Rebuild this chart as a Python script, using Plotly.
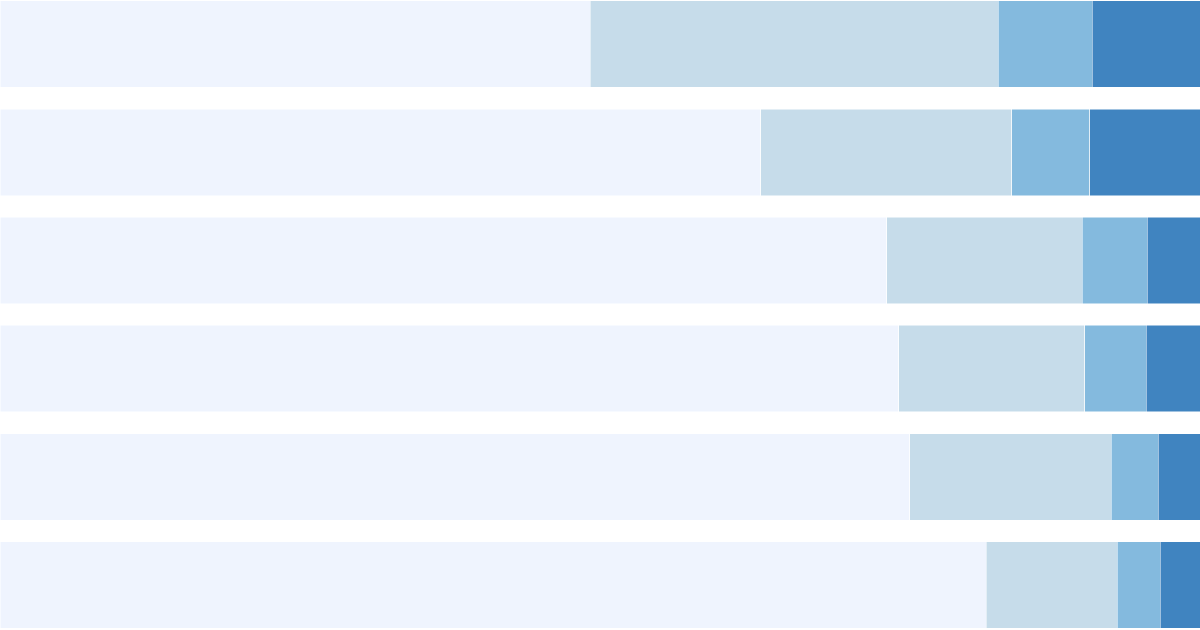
import plotly.graph_objects as go

categories = ["A", "B", "C", "D", "E", "F"]
series_names = ["S1", "S2", "S3", "S4"]
s1 = [49.2, 63.4, 73.9, 74.9, 75.8, 82.2]
s2 = [34.0, 20.9, 16.3, 15.5, 16.8, 10.9]
s3 = [7.8, 6.5, 5.4, 5.1, 3.9, 3.6]
s4 = [9.0, 9.2, 4.4, 4.5, 3.5, 3.3]
colors = ["#eff4fe", "#c6dcea", "#84bade", "#4084c0"]

fig = go.Figure()
for name, vals, col in zip(series_names, [s1, s2, s3, s4], colors):
    fig.add_trace(go.Bar(
        y=categories, x=vals, name=name, orientation="h",
        marker=dict(color=col, line=dict(color="white", width=0.5)),
        hoverinfo="skip",
    ))

fig.update_layout(
    barmode="stack",
    bargap=0.2,
    width=1200, height=630,
    margin=dict(l=0, r=0, t=0, b=0),
    paper_bgcolor="white", plot_bgcolor="white",
    showlegend=False,
    xaxis=dict(range=[0, 100], visible=False, fixedrange=True),
    yaxis=dict(range=[5.416, -0.408], visible=False, fixedrange=True),
)
fig.write_html(
    "out.html",
    config={"displayModeBar": False},
    post_script="document.body.style.margin='0';document.body.style.overflow='hidden';",
)
